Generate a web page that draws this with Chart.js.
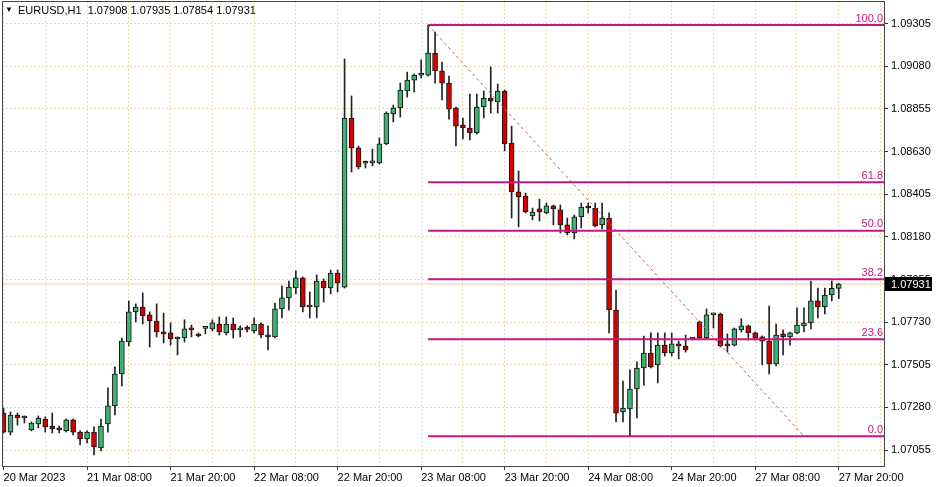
<!DOCTYPE html>
<html>
<head>
<meta charset="utf-8">
<title>EURUSD,H1</title>
<script src="https://cdn.jsdelivr.net/npm/chart.js@4.4.1/dist/chart.umd.min.js"></script>
<style>
  html, body { margin: 0; padding: 0; background: #fff; }
  #wrap { width: 940px; height: 487px; }
</style>
</head>
<body>
<div id="wrap"><canvas id="chart" width="940" height="487"></canvas></div>
<script>
// EURUSD H1 bars, 20 Mar 2023 20:00 .. 27 Mar 2023 20:00 (bar index 0..120)
const symbol = 'EURUSD,H1';

const opens = [
  1.07250, 1.07150, 1.07240, 1.07224, 1.07161, 1.07193, 1.07219, 1.07182, 1.07172, 1.07156,
  1.07214, 1.07150, 1.07114, 1.07150, 1.07066, 1.07193, 1.07288, 1.07457, 1.07625, 1.07784,
  1.07810, 1.07768, 1.07736, 1.07678, 1.07673, 1.07641, 1.07646, 1.07694, 1.07660, 1.07697,
  1.07694, 1.07720, 1.07673, 1.07720, 1.07689, 1.07694, 1.07683, 1.07720, 1.07662, 1.07652,
  1.07800, 1.07858, 1.07910, 1.07963, 1.07810, 1.07810, 1.07947, 1.07910, 1.07989, 1.07915,
  1.08807, 1.08649, 1.08568, 1.08570, 1.08570, 1.08670, 1.08828, 1.08860, 1.08949, 1.09007,
  1.09033, 1.09033, 1.09149, 1.09055, 1.08991, 1.08860, 1.08770, 1.08754, 1.08728, 1.08865,
  1.08912, 1.08891, 1.08949, 1.08675, 1.08417, 1.08395, 1.08290, 1.08327, 1.08306, 1.08343,
  1.08322, 1.08243, 1.08200, 1.08285, 1.08337, 1.08332, 1.08243, 1.08279, 1.07794, 1.07256,
  1.07272, 1.07377, 1.07488, 1.07567, 1.07504, 1.07609, 1.07567, 1.07615, 1.07604, 1.07641,
  1.07731, 1.07646, 1.07768, 1.07773, 1.07615, 1.07609, 1.07689, 1.07710, 1.07673, 1.07652,
  1.07630, 1.07509, 1.07668, 1.07652, 1.07673, 1.07710, 1.07726, 1.07842, 1.07810, 1.07873,
  1.07908
];
const highs = [
  1.07277, 1.07256, 1.07250, 1.07235, 1.07203, 1.07235, 1.07230, 1.07250, 1.07182, 1.07219,
  1.07219, 1.07156, 1.07156, 1.07177, 1.07219, 1.07383, 1.07494, 1.07646, 1.07842, 1.07826,
  1.07884, 1.07784, 1.07826, 1.07778, 1.07726, 1.07652, 1.07742, 1.07715, 1.07673, 1.07699,
  1.07742, 1.07757, 1.07757, 1.07752, 1.07710, 1.07710, 1.07752, 1.07726, 1.07710, 1.07831,
  1.07921, 1.07947, 1.08000, 1.07968, 1.07889, 1.07979, 1.07958, 1.08005, 1.08005, 1.09118,
  1.08923, 1.08659, 1.08580, 1.08643, 1.08702, 1.08839, 1.08875, 1.08991, 1.09049, 1.09039,
  1.09113, 1.09297, 1.09260, 1.09102, 1.09028, 1.08865, 1.08807, 1.08933, 1.08933, 1.08949,
  1.09076, 1.08986, 1.08954, 1.08764, 1.08527, 1.08411, 1.08332, 1.08379, 1.08358, 1.08348,
  1.08348, 1.08279, 1.08295, 1.08358, 1.08358, 1.08358, 1.08358, 1.08306, 1.07899, 1.07419,
  1.07478, 1.07520, 1.07657, 1.07673, 1.07673, 1.07673, 1.07673, 1.07630, 1.07662, 1.07646,
  1.07736, 1.07800, 1.07778, 1.07778, 1.07668, 1.07699, 1.07747, 1.07715, 1.07678, 1.07657,
  1.07815, 1.07720, 1.07689, 1.07678, 1.07805, 1.07805, 1.07947, 1.07910, 1.07910, 1.07947,
  1.07935
];
const lows = [
  1.07145, 1.07135, 1.07187, 1.07198, 1.07156, 1.07172, 1.07150, 1.07145, 1.07145, 1.07150,
  1.07135, 1.07082, 1.07093, 1.07030, 1.07050, 1.07150, 1.07240, 1.07393, 1.07604, 1.07731,
  1.07720, 1.07599, 1.07652, 1.07620, 1.07609, 1.07557, 1.07625, 1.07652, 1.07652, 1.07668,
  1.07683, 1.07662, 1.07662, 1.07646, 1.07652, 1.07678, 1.07673, 1.07646, 1.07583, 1.07646,
  1.07752, 1.07794, 1.07879, 1.07784, 1.07752, 1.07752, 1.07836, 1.07879, 1.07889, 1.07910,
  1.08522, 1.08538, 1.08543, 1.08554, 1.08564, 1.08665, 1.08786, 1.08812, 1.08917, 1.08944,
  1.09018, 1.09028, 1.08991, 1.08902, 1.08801, 1.08659, 1.08696, 1.08691, 1.08722, 1.08807,
  1.08833, 1.08833, 1.08633, 1.08279, 1.08232, 1.08306, 1.08269, 1.08264, 1.08301, 1.08243,
  1.08200, 1.08190, 1.08169, 1.08227, 1.08306, 1.08232, 1.08222, 1.07673, 1.07203, 1.07203,
  1.07128, 1.07224, 1.07398, 1.07488, 1.07409, 1.07551, 1.07551, 1.07536, 1.07572, 1.07636,
  1.07641, 1.07641, 1.07699, 1.07599, 1.07572, 1.07604, 1.07678, 1.07636, 1.07636, 1.07504,
  1.07457, 1.07499, 1.07557, 1.07609, 1.07668, 1.07678, 1.07694, 1.07752, 1.07773, 1.07842,
  1.07854
];
const closes = [
  1.07150, 1.07240, 1.07224, 1.07229, 1.07198, 1.07224, 1.07177, 1.07166, 1.07161, 1.07214,
  1.07150, 1.07114, 1.07150, 1.07072, 1.07182, 1.07288, 1.07457, 1.07630, 1.07784, 1.07810,
  1.07763, 1.07736, 1.07678, 1.07668, 1.07641, 1.07646, 1.07694, 1.07689, 1.07657, 1.07699,
  1.07726, 1.07678, 1.07720, 1.07689, 1.07694, 1.07692, 1.07720, 1.07662, 1.07652, 1.07800,
  1.07858, 1.07915, 1.07963, 1.07810, 1.07815, 1.07947, 1.07910, 1.07989, 1.07937, 1.08807,
  1.08649, 1.08549, 1.08572, 1.08574, 1.08670, 1.08833, 1.08860, 1.08954, 1.09007, 1.09033,
  1.09044, 1.09149, 1.09055, 1.08991, 1.08854, 1.08764, 1.08754, 1.08728, 1.08865, 1.08912,
  1.08896, 1.08949, 1.08670, 1.08417, 1.08390, 1.08311, 1.08311, 1.08311, 1.08343, 1.08327,
  1.08243, 1.08200, 1.08285, 1.08337, 1.08332, 1.08237, 1.08279, 1.07794, 1.07250, 1.07277,
  1.07377, 1.07488, 1.07567, 1.07494, 1.07609, 1.07567, 1.07615, 1.07604, 1.07583, 1.07641,
  1.07646, 1.07768, 1.07773, 1.07604, 1.07604, 1.07694, 1.07710, 1.07673, 1.07646, 1.07630,
  1.07509, 1.07662, 1.07652, 1.07673, 1.07715, 1.07726, 1.07842, 1.07810, 1.07873, 1.07908,
  1.07931
];

// one time label every 12 bars, starting at bar 0
const timeLabels = [
  '20 Mar 2023', '21 Mar 08:00', '21 Mar 20:00', '22 Mar 08:00', '22 Mar 20:00', '23 Mar 08:00',
  '23 Mar 20:00', '24 Mar 08:00', '24 Mar 20:00', '27 Mar 08:00', '27 Mar 20:00'
];
const priceTicks = [
  1.07055, 1.07280, 1.07505, 1.07730, 1.07955, 1.08180, 1.08405, 1.08630, 1.08855, 1.09080, 1.09305
];

// Fibonacci retracement drawn from the 23 Mar high down to the 24 Mar low
const fiboLevels = [0, 23.6, 38.2, 50, 61.8, 100];
const fiboHigh = 1.09297;
const fiboLow = 1.07128;
const fiboFromBar = 61;
const fiboToBar = 115;

const X_MIN = -0.22, X_MAX = 126.5;
const FONT = "'Liberation Sans', Arial, sans-serif";
const BULL = '#3cb371', BEAR = '#d40000', FIBO = '#c71585', GRID = '#ecdcbc';

function fiboPrice(level) {
  return fiboLow + (fiboHigh - fiboLow) * level / 100;
}

const lastIdx = closes.length - 1;
const bodyData = opens.map((o, i) => ({ x: i, y: [o, closes[i]] }));
const wickData = lows.map((l, i) => ({ x: i, y: [l, highs[i]] }));
const bodyColors = opens.map((o, i) => closes[i] >= o ? BULL : BEAR);

const fiboSets = fiboLevels.map(lv => ({
  type: 'line',
  data: [{ x: fiboFromBar, y: fiboPrice(lv) }, { x: X_MAX, y: fiboPrice(lv) }],
  borderColor: FIBO,
  borderWidth: 2,
  pointRadius: 0,
  order: 0
}));

// axes keep a fixed size and no extra label padding, like the terminal window
function fixAxis(size) {
  return s => {
    if (s.isHorizontal()) s.height = size; else s.width = size;
    s.paddingTop = 0;
    s.paddingBottom = 0;
    s.paddingLeft = 0;
    s.paddingRight = 0;
  };
}

/**
 * Texts that sit on top of the chart: level captions, price marker, header, frame
 */
const overlay = {
  id: 'overlay',
  beforeDraw(chart) {
    const ctx = chart.ctx;
    ctx.save();
    ctx.fillStyle = '#fff';
    ctx.fillRect(0, 0, chart.width, chart.height);
    ctx.restore();
  },
  afterDraw(chart) {
    const { ctx, chartArea: a, scales: { y } } = chart;
    ctx.save();
    ctx.font = '11px ' + FONT;

    // fibo captions
    ctx.fillStyle = FIBO;
    ctx.textAlign = 'right';
    ctx.textBaseline = 'bottom';
    fiboLevels.forEach(lv => {
      const py = y.getPixelForValue(fiboPrice(lv));
      ctx.fillText(lv.toFixed(1), a.right - 1, py - 1);
    });

    // frame
    ctx.strokeStyle = '#444';
    ctx.lineWidth = 1;
    ctx.strokeRect(a.left + 0.5, a.top + 0.5, a.right - a.left, a.bottom - a.top);

    // current price marker
    const last = closes[lastIdx];
    const py = Math.round(y.getPixelForValue(last));
    ctx.fillStyle = '#000';
    ctx.fillRect(a.right + 1, py - 7, 47, 14);
    ctx.fillStyle = '#fff';
    ctx.textAlign = 'left';
    ctx.textBaseline = 'middle';
    ctx.fillText(last.toFixed(5), a.right + 7, py + 0.5);

    // header
    ctx.fillStyle = '#000';
    ctx.font = '8px ' + FONT;
    ctx.fillText('\u25BC', 5, 10);
    ctx.font = '11px ' + FONT;
    const ohlc = [opens[lastIdx], highs[lastIdx], lows[lastIdx], closes[lastIdx]].map(v => v.toFixed(5)).join(' ');
    ctx.fillText(symbol + '  ' + ohlc, 18, 11);
    ctx.restore();
  }
};

new Chart(document.getElementById('chart'), {
  type: 'bar',
  data: {
    datasets: [
      {
        type: 'bar',
        data: bodyData,
        backgroundColor: bodyColors,
        borderColor: '#111',
        borderWidth: 1,
        borderSkipped: false,
        barThickness: 5,
        minBarLength: 2,
        grouped: false,
        order: 1
      },
      {
        type: 'bar',
        data: wickData,
        backgroundColor: '#222',
        borderWidth: 0,
        barThickness: 1,
        grouped: false,
        order: 2
      },
      {
        type: 'line',
        data: [{ x: X_MIN, y: closes[lastIdx] }, { x: X_MAX, y: closes[lastIdx] }],
        borderColor: 'rgba(246, 206, 150, 0.5)',
        borderWidth: 2,
        pointRadius: 0,
        order: 3
      },
      ...fiboSets,
      {
        type: 'line',
        data: [{ x: fiboFromBar, y: fiboHigh }, { x: fiboToBar, y: fiboLow }],
        borderColor: '#b9616f',
        borderWidth: 1,
        borderDash: [3, 3],
        pointRadius: 0,
        order: 0
      }
    ]
  },
  options: {
    responsive: false,
    animation: false,
    devicePixelRatio: 1,
    layout: { padding: { left: 2, top: 1, right: 0, bottom: 0 } },
    font: { family: FONT, size: 11 },
    plugins: {
      legend: { display: false },
      tooltip: { enabled: false }
    },
    scales: {
      x: {
        type: 'linear',
        min: X_MIN,
        max: X_MAX,
        offset: false,
        afterBuildTicks: s => {
          s.ticks = [];
          for (let v = 0; v <= 126; v += 6) s.ticks.push({ value: v });
        },
        afterFit: fixAxis(21),
        grid: {
          offset: false,
          color: GRID,
          lineWidth: 1,
          tickLength: 4,
          tickColor: c => (c.tick && c.tick.value % 12 === 0) ? '#333' : 'rgba(0,0,0,0)'
        },
        border: { display: false, dash: [2, 2] },
        ticks: {
          autoSkip: false,
          maxRotation: 0,
          align: 'start',
          padding: 1,
          color: '#000',
          font: { family: FONT, size: 11 },
          callback: v => v % 12 === 0 ? (timeLabels[v / 12] || '') : ''
        }
      },
      y: {
        type: 'linear',
        position: 'right',
        min: 1.06971,
        max: 1.09424,
        afterBuildTicks: s => { s.ticks = priceTicks.map(v => ({ value: v })); },
        afterFit: fixAxis(56),
        grid: { color: GRID, lineWidth: 1, tickLength: 4, tickColor: '#333' },
        border: { display: false, dash: [2, 2] },
        ticks: {
          padding: 3,
          color: '#000',
          font: { family: FONT, size: 11 },
          callback: v => v.toFixed(5)
        }
      }
    }
  },
  plugins: [overlay]
});
</script>
</body>
</html>
